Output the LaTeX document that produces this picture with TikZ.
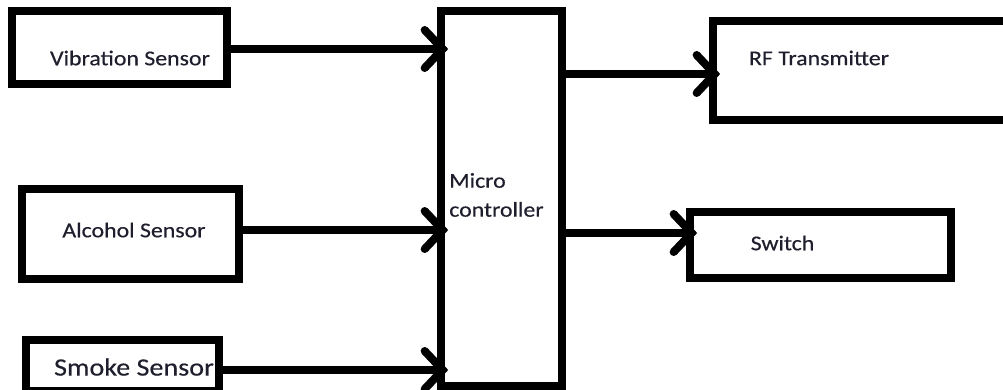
\documentclass[tikz,border=0pt]{standalone}
\usepackage{fontspec}
\setmainfont{Carlito}[FakeStretch=1.13, FakeBold=0.4]
\usetikzlibrary{arrows.meta}
\definecolor{txtcol}{RGB}{30,30,45}

\begin{document}
\begin{tikzpicture}[
  x=0.025cm, y=-0.025cm,
  blk/.style={
    draw, line width=0.2cm, inner sep=0pt
  },
  lbl/.style={
    inner sep=0pt, text=txtcol, font=\fontsize{15}{20.6}\selectfont
  },
  arr/.style={-{Straight Barb[length=0.45cm, width=0.95cm, line cap=round]}, line width=0.2cm, shorten >=-0.28cm}
]
  \useasboundingbox (0,0) rectangle (1003,389);
  \clip (0,0) rectangle (1003,389);

  % sensors
  \node[blk, minimum width=5.375cm, minimum height=1.825cm] (vib) at (119.5,47.5) {};
  \node[blk, minimum width=5.425cm, minimum height=2.25cm] (alc) at (130.5,234) {};
  \node[blk, minimum width=4.825cm, minimum height=1.275cm] (smk) at (122.5,365.5) {};

  % controller and outputs
  \node[blk, minimum width=3.025cm, minimum height=9.375cm] (mcu) at (501.5,198.5) {};
  \node[blk, minimum width=7.425cm, minimum height=2.475cm] (rf) at (861.5,70.5) {};
  \node[blk, minimum width=6.525cm, minimum height=1.65cm] (sw) at (820.5,245) {};

  \node[lbl] (vibtxt) at (130,58) {Vibration Sensor};
  \node[lbl] (alctxt) at (134,230) {Alcohol Sensor};
  \node[lbl, font=\fontsize{17.7}{21}\selectfont] (smktxt) at (134,367) {Smoke Sensor};
  \node[lbl, anchor=west, align=left] (mcutxt) at (449,195) {Micro\\controller};
  \node[lbl] (rftxt) at (819,58) {RF Transmitter};
  \node[lbl] (swtxt) at (782.5,243) {Switch};

  \draw[arr] (vib.east |- 0,49) -- (mcu.west |- 0,49);
  \draw[arr] (alc.east |- 0,230) -- (mcu.west |- 0,230);
  \draw[arr] (smk.east |- 0,370) -- (mcu.west |- 0,370);
  \draw[arr] (mcu.east |- 0,74) -- (rf.west |- 0,74);
  \draw[arr] (mcu.east |- 0,233) -- (sw.west |- 0,233);

\end{tikzpicture}
\end{document}
